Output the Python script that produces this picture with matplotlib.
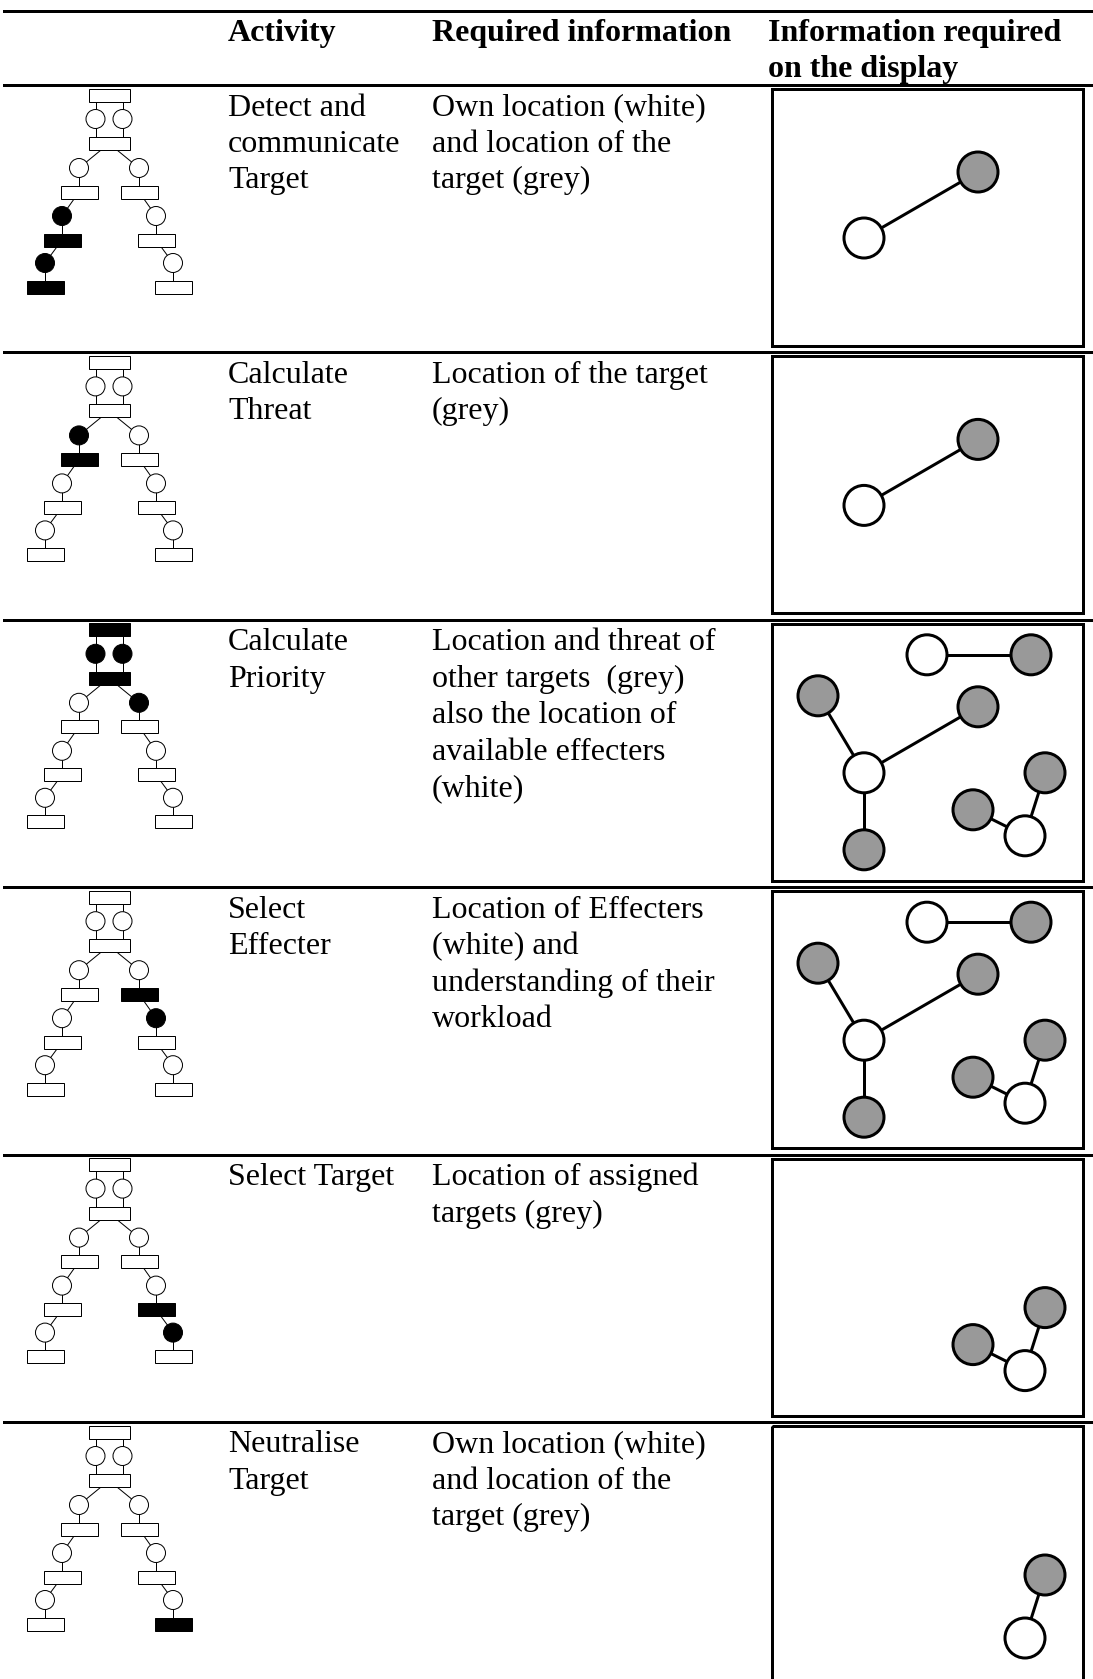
import matplotlib.pyplot as plt
from matplotlib.patches import Circle, Rectangle

# Table content
header = ["Activity", "Required information", "Information required\non the display"]
activities = [
    ["Detect and", "communicate", "Target"],
    ["Calculate", "Threat"],
    ["Calculate", "Priority"],
    ["Select", "Effecter"],
    ["Select Target"],
    ["Neutralise", "Target"],
]
required = [
    ["Own location (white)", "and location of the", "target (grey)"],
    ["Location of the target", "(grey)"],
    ["Location and threat of", "other targets  (grey)", "also the location of",
     "available effecters", "(white)"],
    ["Location of Effecters", "(white) and", "understanding of their", "workload"],
    ["Location of assigned", "targets (grey)"],
    ["Own location (white)", "and location of the", "target (grey)"],
]

# which nodes of the task tree are highlighted in each row
tree_filled = [
    ["cL2", "rL2", "cL3", "rL3"],
    ["cL1", "rL1"],
    ["r0", "cT1", "cT2", "r1", "cR1"],
    ["rR1", "cR2"],
    ["rR2", "cR3"],
    ["rR3"],
]

# display symbols and links between them
display_nodes = ["W_top", "G_topright", "G_left", "G_mid", "W_center",
                 "G_bottom", "G_right", "G_lowmid", "W_lowright"]
display_links = [("W_top", "G_topright"), ("G_left", "W_center"),
                 ("W_center", "G_mid"), ("W_center", "G_bottom"),
                 ("G_lowmid", "W_lowright"), ("W_lowright", "G_right")]
display_shown = [
    ["W_center", "G_mid"],
    ["W_center", "G_mid"],
    display_nodes,
    display_nodes,
    ["G_lowmid", "G_right", "W_lowright"],
    ["G_right", "W_lowright"],
]

# ---- layout (pixel units) ----
W, H = 1093, 1679
row_top = [85 + 267.4 * i for i in range(6)]
col_x = [228, 432, 768]
line_gap = 36.4
PX = 0.72  # points per pixel

# tree geometry: name -> (kind, x, dy)
tx = 109
tree = {
    "r0": ("r", tx, 10), "cT1": ("c", tx - 13.5, 34), "cT2": ("c", tx + 13.5, 34),
    "r1": ("r", tx, 58.5),
    "cL1": ("c", tx - 30, 83), "rL1": ("r", tx - 30, 107),
    "cL2": ("c", tx - 47, 131), "rL2": ("r", tx - 47, 155),
    "cL3": ("c", tx - 64, 178), "rL3": ("r", tx - 64, 202),
    "cR1": ("c", tx + 30, 83), "rR1": ("r", tx + 30, 107),
    "cR2": ("c", tx + 47, 131), "rR2": ("r", tx + 47, 155),
    "cR3": ("c", tx + 64, 178), "rR3": ("r", tx + 64, 202),
}
tree_edges = [("cT1", "r0"), ("cT2", "r0"), ("cT1", "r1"), ("cT2", "r1"),
              ("r1", "cL1"), ("cL1", "rL1"), ("rL1", "cL2"), ("cL2", "rL2"),
              ("rL2", "cL3"), ("cL3", "rL3"),
              ("r1", "cR1"), ("cR1", "rR1"), ("rR1", "cR2"), ("cR2", "rR2"),
              ("rR2", "cR3"), ("cR3", "rR3")]

disp_pos = {
    "W_top": (927, 35), "G_topright": (1031, 35), "G_left": (818, 76),
    "G_mid": (978, 87), "W_center": (864, 153), "G_bottom": (864, 230),
    "G_right": (1045, 153), "G_lowmid": (973, 190), "W_lowright": (1025, 216),
}

fig = plt.figure(figsize=(W / 100, H / 100), dpi=100)
ax = fig.add_axes([0, 0, 1, 1])
ax.set_xlim(0, W)
ax.set_ylim(H, 0)
ax.axis('off')

font = dict(family=['Liberation Serif', 'DejaVu Serif'], fontsize=23, color='black')

# header
ax.plot([4, W], [11, 11], color='black', lw=3 * PX)
for x, label in zip(col_x, header):
    for j, s in enumerate(label.split("\n")):
        ax.text(x, 33 + j * line_gap, s, va='center', ha='left', fontweight='bold', **font)

for i, top in enumerate(row_top):
    ax.plot([4, W], [top, top], color='black', lw=3 * PX, zorder=5)

    # text columns
    for j, s in enumerate(activities[i]):
        ax.text(col_x[0], top + 23 + j * line_gap, s, va='center', ha='left', **font)
    for j, s in enumerate(required[i]):
        ax.text(col_x[1], top + 23 + j * line_gap, s, va='center', ha='left', **font)

    # task tree
    for a, b in tree_edges:
        ka, xa, ya = tree[a]
        kb, xb, yb = tree[b]
        if a.startswith("cT"):
            xb = xa
        ax.plot([xa, xb], [top + ya, top + yb], color='black', lw=1 * PX, zorder=2)
    for name, (kind, x, dy) in tree.items():
        fc = 'black' if name in tree_filled[i] else 'white'
        if kind == "c":
            p = Circle((x, top + dy), 9.5, fc=fc, ec='black', lw=1 * PX, zorder=3)
        else:
            w = 41 if name in ("r0", "r1") else 37
            p = Rectangle((x - w / 2, top + dy - 6.5), w, 13, fc=fc, ec='black',
                          lw=1 * PX, zorder=3)
        ax.add_patch(p)

    # display box
    ax.add_patch(Rectangle((772, top + 4), 311, 257, fc='none', ec='black',
                           lw=3 * PX, zorder=3))
    shown = display_shown[i]
    for a, b in display_links:
        if a in shown and b in shown:
            (xa, ya), (xb, yb) = disp_pos[a], disp_pos[b]
            ax.plot([xa, xb], [top + ya, top + yb], color='black', lw=3 * PX, zorder=3)
    for name in shown:
        x, y = disp_pos[name]
        fc = 'white' if name.startswith("W") else '#999999'
        ax.add_patch(Circle((x, top + y), 20, fc=fc, ec='black', lw=3 * PX, zorder=4))

fig.savefig("out.png", dpi=100)
